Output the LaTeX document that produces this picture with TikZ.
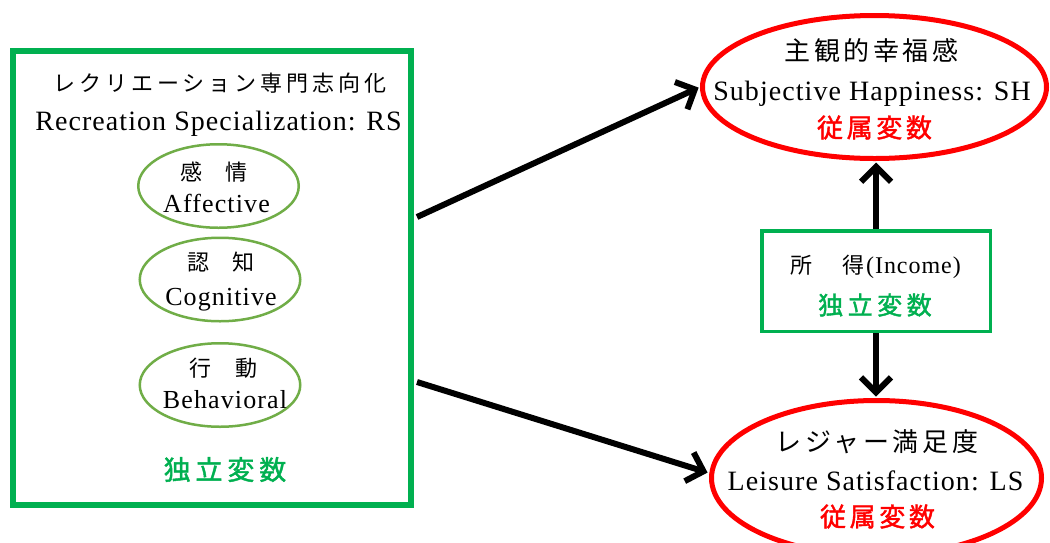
\documentclass[tikz,border=0pt]{standalone}
\usepackage{fontspec}
\setmainfont{Liberation Serif}
\newfontfamily\jp{Noto Sans CJK JP}
\newfontfamily\jpb[FakeBold=1.6]{Noto Sans CJK JP}
\usetikzlibrary{arrows.meta,shapes.geometric}

\definecolor{boxgreen}{HTML}{00B050}
\definecolor{ovalgreen}{HTML}{70AD47}
\definecolor{depred}{HTML}{FF0000}

% size in pt (one pt per pixel), and letter spacing
\newcommand\fsz[1]{\fontsize{#1}{#1}\selectfont}
\newcommand\lsp[1]{\addfontfeatures{LetterSpace=#1}}

\tikzset{
  txt/.style={inner sep=0pt, outer sep=0pt},
  entitle/.style={txt, anchor=base, font={\fsz{28}\lsp{3.8}}},
  jptitle/.style={txt, font={\jp\fsz{26}\lsp{14}}},
  ensmall/.style={txt, anchor=base, font={\fsz{26}\lsp{4.3}}},
  jpsmall/.style={txt, font={\jp\fsz{22}}},
  indep/.style={txt, text=boxgreen, font={\jpb\fsz{#1}\lsp{18}}},
  dep/.style={txt, text=depred, font={\jpb\fsz{26}\lsp{14}}},
  oval/.style={ellipse, draw=ovalgreen, line width=2.5pt, minimum width=160.5pt,
    minimum height=83.5pt, inner sep=0pt},
  redoval/.style={ellipse, draw=depred, line width=5pt, inner sep=0pt},
  conn/.style={line width=6pt, -{Straight Barb[length=15pt,width=30pt]}, shorten >=1.5pt},
}

\begin{document}
\begin{tikzpicture}[x=1pt, y=-1pt]
\useasboundingbox (0,0) rectangle (1050,542);
\fill[white] (0,0) rectangle (1050,542);
\clip (0,0) rectangle (1050,542);

% independent variable block: recreation specialization
\node[draw=boxgreen, line width=6pt, minimum width=398pt, minimum height=454pt, inner sep=0pt] (rs) at (212,278) {};
\node[txt, font={\jp\fsz{22}\lsp{18}}] (rsjp) at (220,83) {レクリエーション専門志向化};
\node[entitle] (rsen) at (218.5,130) {Recreation Specialization: RS};

\node[oval] (aff) at (218.5,186) {};
\node[jpsmall] (affjp) at (214,172) {感\hspace{24pt}情};
\node[ensmall] (affen) at (216.5,212) {Affective};

\node[oval] (cog) at (220,279.5) {};
\node[jpsmall] (cogjp) at (221,262) {認\hspace{24pt}知};
\node[ensmall] (cogen) at (221,305) {Cognitive};

\node[oval] (beh) at (220,385) {};
\node[jpsmall] (behjp) at (223.5,368) {行\hspace{24pt}動};
\node[ensmall] (behen) at (225,408) {Behavioral};

\node[indep=27] (rsvar) at (225,469.5) {独立変数};

% dependent variable: subjective happiness
\node[redoval, minimum width=344pt, minimum height=143pt] (sh) at (874.5,87) {};
\node[jptitle] (shjp) at (871.5,50.5) {主観的幸福感};
\node[entitle] (shen) at (872,100) {Subjective Happiness: SH};
\node[dep] (shvar) at (874.5,127.5) {従属変数};

% independent variable: income
\node[draw=boxgreen, line width=3.5pt, minimum width=228.5pt, minimum height=100.5pt, inner sep=0pt] (inc) at (876,281) {};
\node[txt, font=\fsz{24}] (incjp) at (873,267) {{\jp\fsz{22} 所\hspace{30pt}得}\hspace{2pt}{\lsp{4}(Income)}};
\node[indep=25] (incvar) at (875,305) {独立変数};

% dependent variable: leisure satisfaction
\node[redoval, minimum width=330pt, minimum height=155pt] (ls) at (876.5,478) {};
\node[jptitle] (lsjp) at (877,441.5) {レジャー満足度};
\node[entitle] (lsen) at (875.5,490) {Leisure Satisfaction: LS};
\node[dep] (lsvar) at (877.5,516.5) {従属変数};

% paths
\draw[conn] ([xshift=3pt,yshift=61pt]rs.east) -- (sh.west);
\draw[conn] ([xshift=3pt,yshift=-104pt]rs.east) -- ([yshift=5pt]ls.west);
\draw[conn] (inc.north) -- (inc.north |- sh.south);
\draw[conn] (inc.south) -- (inc.south |- ls.north);
\end{tikzpicture}
\end{document}
